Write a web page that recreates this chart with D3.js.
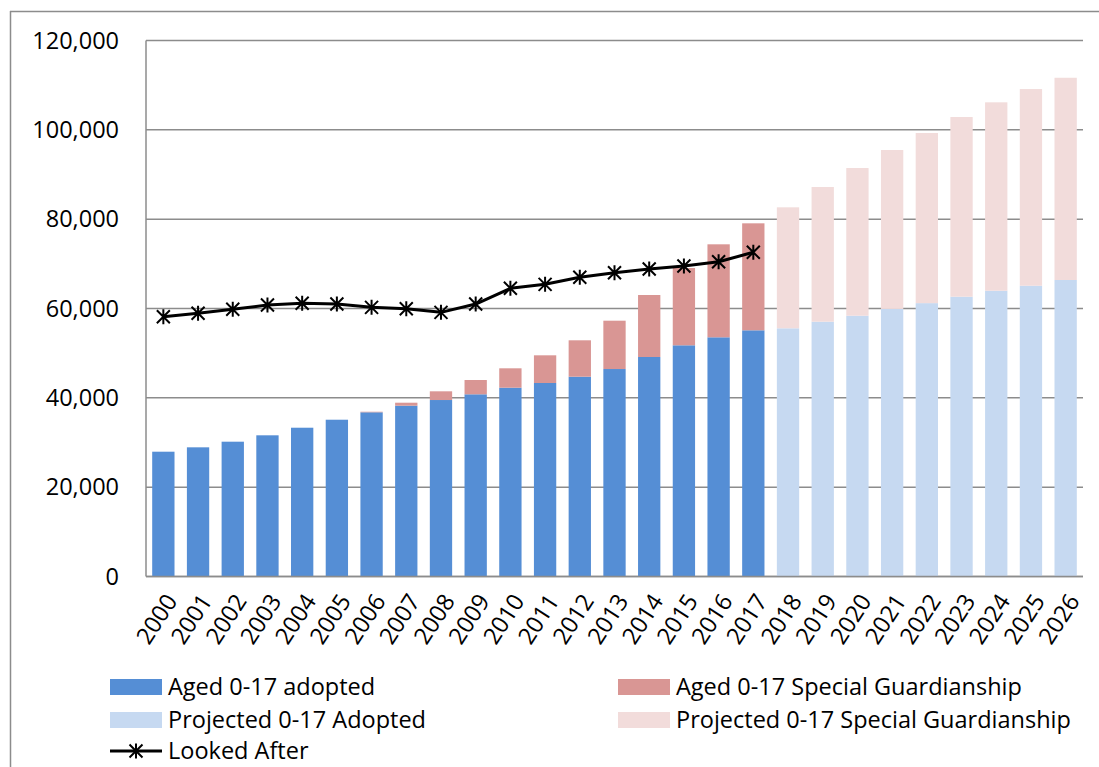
<!DOCTYPE html>
<html><head><meta charset="utf-8">
<script src="https://cdn.jsdelivr.net/npm/d3@7"></script>
<style>
html,body{margin:0;padding:0;background:#fff;}
svg{display:block;font-family:"Open Sans",sans-serif;}
</style></head>
<body>
<svg id="chart" width="1099" height="767"></svg>
<script>
const years = ["2000","2001","2002","2003","2004","2005","2006","2007","2008","2009","2010","2011","2012","2013","2014","2015","2016","2017","2018","2019","2020","2021","2022","2023","2024","2025","2026"];
const adopted = [27940,28920,30180,31610,33310,35100,36760,38240,39510,40790,42270,43320,44730,46450,49140,51760,53550,55120,null,null,null,null,null,null,null,null,null];
const specialGuardianship = [0,0,0,0,0,0,130,670,1950,3200,4340,6200,8150,10820,13880,17300,20820,23950,null,null,null,null,null,null,null,null,null];
const projectedAdopted = [null,null,null,null,null,null,null,null,null,null,null,null,null,null,null,null,null,null,55570,57050,58390,59900,61200,62640,63980,65100,66380];
const projectedSG = [null,null,null,null,null,null,null,null,null,null,null,null,null,null,null,null,null,null,27080,30150,33060,35580,38090,40230,42180,44030,45280];
const lookedAfter = [58160,58920,59820,60780,61160,61000,60260,59950,59140,61000,64520,65410,66980,68010,68840,69510,70470,72580,null,null,null,null,null,null,null,null,null];
const yTicks = [0,20000,40000,60000,80000,100000,120000];
const seriesNames = ["Aged 0-17 adopted","Aged 0-17 Special Guardianship","Projected 0-17 Adopted","Projected 0-17 Special Guardianship","Looked After"];

const colors = {adopted:"#558ED5", sg:"#D99694", projAdopted:"#C6D9F1", projSG:"#F2DCDB"};
const keys = ["adopted","sg","projAdopted","projSG"];
const table = years.map((yr,i)=>({year:yr, adopted:adopted[i]||0, sg:specialGuardianship[i]||0, projAdopted:projectedAdopted[i]||0, projSG:projectedSG[i]||0}));

const FS = 23.5;
const svg = d3.select("#chart");
const plotL = 146, plotR = 1083, plotT = 40.5, plotB = 576.5;
const x = d3.scaleBand().domain(years).range([plotL, plotR]).paddingInner(0.357).paddingOuter(0.1785);
const y = d3.scaleLinear().domain([0,120000]).range([plotB, plotT]);
const gridColor = "#8c8c8c";

// outer frame
svg.append("line").attr("x1",10).attr("x2",1099).attr("y1",11.5).attr("y2",11.5).attr("stroke",gridColor).attr("stroke-width",1.5);
svg.append("line").attr("x1",10.5).attr("x2",10.5).attr("y1",11).attr("y2",767).attr("stroke",gridColor).attr("stroke-width",1.5);

// gridlines
svg.append("g").selectAll("line").data(yTicks).join("line")
  .attr("x1",plotL).attr("x2",plotR).attr("y1",d=>y(d)).attr("y2",d=>y(d))
  .attr("stroke",gridColor).attr("stroke-width",1.5);
svg.append("line").attr("x1",plotL).attr("x2",plotL).attr("y1",plotT).attr("y2",plotB).attr("stroke",gridColor).attr("stroke-width",1.5);

// y axis
const yAxis = d3.axisLeft(y).tickValues(yTicks).tickFormat(d3.format(",")).tickSize(0).tickPadding(27);
const ya = svg.append("g").attr("transform",`translate(${plotL},0)`).call(yAxis);
ya.select(".domain").remove();
ya.selectAll("text").attr("font-size",FS).attr("fill","#000").attr("font-family","'Open Sans',sans-serif");

// bars
const stacked = d3.stack().keys(keys)(table);
svg.append("g").selectAll("g").data(stacked).join("g").attr("fill",d=>colors[d.key])
  .selectAll("rect").data(d=>d).join("rect")
  .attr("x",d=>x(d.data.year)).attr("width",x.bandwidth())
  .attr("y",d=>y(d[1])).attr("height",d=>Math.max(0,y(d[0])-y(d[1])));

// bottom axis line
svg.append("line").attr("x1",plotL).attr("x2",plotR).attr("y1",plotB).attr("y2",plotB).attr("stroke",gridColor).attr("stroke-width",1.5);

// x axis labels
const xAxis = d3.axisBottom(x).tickSize(0).tickPadding(0);
const xa = svg.append("g").attr("transform",`translate(0,${plotB})`).call(xAxis);
xa.select(".domain").remove();
xa.selectAll("text").attr("font-size",FS).attr("fill","#000").attr("font-family","'Open Sans',sans-serif")
  .attr("text-anchor","end").attr("dy","0.35em")
  .attr("transform","translate(8,20) rotate(-57)").attr("y",0).attr("x",0);

// line
const starPath = "M0,-7.5V7.5M-6.5,-6.5L6.5,6.5M-6.5,6.5L6.5,-6.5";
const pts = years.map((yr,i)=>({year:yr, v:lookedAfter[i]})).filter(d=>d.v!=null);
const line = d3.line().x(d=>x(d.year)+x.bandwidth()/2).y(d=>y(d.v));
svg.append("path").datum(pts).attr("d",line).attr("fill","none").attr("stroke","#000").attr("stroke-width",3).attr("stroke-linejoin","round");
svg.append("g").selectAll("path").data(pts).join("path")
  .attr("transform",d=>`translate(${x(d.year)+x.bandwidth()/2},${y(d.v)})`)
  .attr("d",starPath).attr("stroke","#000").attr("stroke-width",2).attr("fill","none");

// legend
const legendItems = [
  {name:seriesNames[0], type:"rect", color:colors.adopted, x:110, y:687},
  {name:seriesNames[1], type:"rect", color:colors.sg, x:618, y:687},
  {name:seriesNames[2], type:"rect", color:colors.projAdopted, x:110, y:720},
  {name:seriesNames[3], type:"rect", color:colors.projSG, x:618, y:720},
  {name:seriesNames[4], type:"line", color:"#000", x:110, y:751}
];
const lg = svg.append("g").selectAll("g").data(legendItems).join("g").attr("transform",d=>`translate(${d.x},${d.y})`);
lg.filter(d=>d.type==="rect").append("rect").attr("x",0).attr("y",-8).attr("width",52).attr("height",16).attr("fill",d=>d.color);
lg.filter(d=>d.type==="line").append("line").attr("x1",0).attr("x2",52).attr("y1",0).attr("y2",0).attr("stroke","#000").attr("stroke-width",3);
lg.filter(d=>d.type==="line").append("path").attr("transform","translate(26,0)").attr("d",starPath).attr("stroke","#000").attr("stroke-width",2);
lg.append("text").attr("x",58).attr("y",0).attr("dy","0.35em").attr("font-size",FS).attr("fill","#000").text(d=>d.name);
</script>
</body></html>
